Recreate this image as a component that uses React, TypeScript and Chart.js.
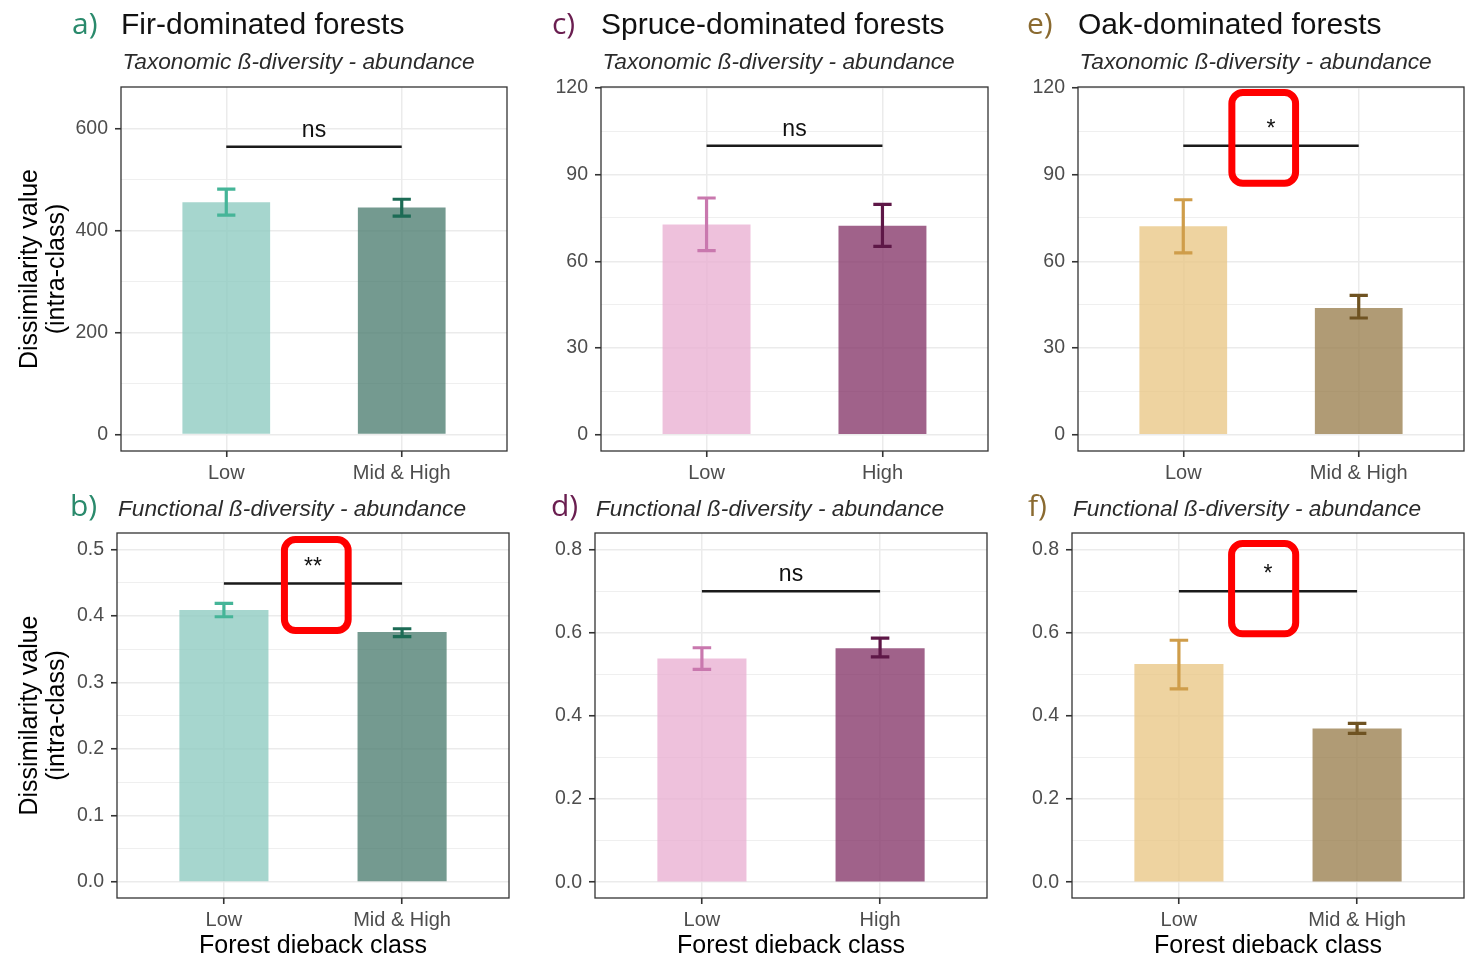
import React, { useEffect, useRef } from 'react';
import { Chart, registerables } from 'chart.js';

Chart.register(...registerables);

const SANS = '"Liberation Sans", Arial, Helvetica, sans-serif';
const LETTER = '"Open Sans", "Noto Sans", sans-serif';

// Dieback classes per forest type
const firClasses = ['Low', 'Mid & High'];
const spruceClasses = ['Low', 'High'];
const oakClasses = ['Low', 'Mid & High'];

// a) Fir – taxonomic β-diversity (abundance): mean and error-bar limits
const firTaxMean = [455, 445];
const firTaxLower = [430, 428];
const firTaxUpper = [481, 461];

// b) Fir – functional β-diversity (abundance)
const firFunMean = [0.409, 0.376];
const firFunLower = [0.399, 0.369];
const firFunUpper = [0.419, 0.381];

// c) Spruce – taxonomic
const spruceTaxMean = [72.7, 72.3];
const spruceTaxLower = [63.7, 65.2];
const spruceTaxUpper = [81.9, 79.7];

// d) Spruce – functional
const spruceFunMean = [0.538, 0.563];
const spruceFunLower = [0.512, 0.542];
const spruceFunUpper = [0.564, 0.587];

// e) Oak – taxonomic
const oakTaxMean = [72.1, 43.9];
const oakTaxLower = [62.9, 40.4];
const oakTaxUpper = [81.3, 48.2];

// f) Oak – functional
const oakFunMean = [0.525, 0.37];
const oakFunLower = [0.465, 0.358];
const oakFunUpper = [0.582, 0.382];

// Significance brackets (a..f): height and label
const bracketY = [564, 0.449, 100, 0.7, 100, 0.7];
const bracketLabel = ['ns', '**', 'ns', 'ns', '*', '*'];

// Axis ticks
const firTaxMajor = [0, 200, 400, 600];
const firTaxMinor = [100, 300, 500];
const taxMajor = [0, 30, 60, 90, 120];
const taxMinor = [15, 45, 75, 105];
const firFunMajor = [0, 0.1, 0.2, 0.3, 0.4, 0.5];
const firFunMinor = [0.05, 0.15, 0.25, 0.35, 0.45];
const funMajor = [0, 0.2, 0.4, 0.6, 0.8];
const funMinor = [0.1, 0.3, 0.5, 0.7];

const TAX_SUB = 'Taxonomic ß-diversity - abundance';
const FUN_SUB = 'Functional ß-diversity - abundance';
const Y_TITLE = ['Dissimilarity value', '(intra-class)'];
const X_TITLE = 'Forest dieback class';

type Box = { left: number; top: number; width: number; height: number };
type Panel = {
  letter: string;
  letterColor: string;
  letterDx: number;
  title?: string;
  subtitle: string;
  categories: string[];
  mean: number[];
  lower: number[];
  upper: number[];
  fills: string[];
  errColors: string[];
  bracket: number;
  sig: string;
  yRange: [number, number];
  major: number[];
  minor: number[];
  decimals: number;
  yTitle?: string[];
  xTitle?: string;
  highlight?: { x: [number, number]; y: [number, number] };
  box: Box;
  area: [number, number, number, number];
  yAxisW: number;
};

const FIR_FILL = ['rgba(144,204,194,0.8)', 'rgba(81,129,116,0.8)'];
const FIR_ERR = ['#45b598', '#1c6b55'];
const SPRUCE_FILL = ['rgba(234,178,211,0.8)', 'rgba(136,59,109,0.8)'];
const SPRUCE_ERR = ['#c978ae', '#5e1747'];
const OAK_FILL = ['rgba(234,200,136,0.8)', 'rgba(156,130,83,0.8)'];
const OAK_ERR = ['#cf9d4a', '#6f5322'];

const panels: Panel[] = [
  {
    letter: 'a)', letterColor: '#2a8a6c', letterDx: 49, title: 'Fir-dominated forests', subtitle: TAX_SUB,
    categories: firClasses, mean: firTaxMean, lower: firTaxLower, upper: firTaxUpper,
    fills: FIR_FILL, errColors: FIR_ERR, bracket: bracketY[0], sig: bracketLabel[0],
    yRange: [-32.5, 681], major: firTaxMajor, minor: firTaxMinor, decimals: 0, yTitle: Y_TITLE,
    box: { left: 0, top: 0, width: 515, height: 486 }, area: [121, 87, 507, 451], yAxisW: 121,
  },
  {
    letter: 'b)', letterColor: '#2a8a6c', letterDx: 47, subtitle: FUN_SUB,
    categories: firClasses, mean: firFunMean, lower: firFunLower, upper: firFunUpper,
    fills: FIR_FILL, errColors: FIR_ERR, bracket: bracketY[1], sig: bracketLabel[1],
    yRange: [-0.024, 0.525], major: firFunMajor, minor: firFunMinor, decimals: 1, yTitle: Y_TITLE, xTitle: X_TITLE,
    highlight: { x: [1.32, 1.717], y: [0.373, 0.5205] },
    box: { left: 0, top: 480, width: 515, height: 478 }, area: [117, 533, 509, 898], yAxisW: 117,
  },
  {
    letter: 'c)', letterColor: '#6a1e50', letterDx: 49, title: 'Spruce-dominated forests', subtitle: TAX_SUB,
    categories: spruceClasses, mean: spruceTaxMean, lower: spruceTaxLower, upper: spruceTaxUpper,
    fills: SPRUCE_FILL, errColors: SPRUCE_ERR, bracket: bracketY[2], sig: bracketLabel[2],
    yRange: [-5.6, 120.3], major: taxMajor, minor: taxMinor, decimals: 0,
    box: { left: 520, top: 0, width: 480, height: 486 }, area: [601, 87, 988, 451], yAxisW: 60,
  },
  {
    letter: 'd)', letterColor: '#6a1e50', letterDx: 44, subtitle: FUN_SUB,
    categories: spruceClasses, mean: spruceFunMean, lower: spruceFunLower, upper: spruceFunUpper,
    fills: SPRUCE_FILL, errColors: SPRUCE_ERR, bracket: bracketY[3], sig: bracketLabel[3],
    yRange: [-0.038, 0.84], major: funMajor, minor: funMinor, decimals: 1, xTitle: X_TITLE,
    box: { left: 520, top: 480, width: 480, height: 478 }, area: [595, 533, 987, 898], yAxisW: 60,
  },
  {
    letter: 'e)', letterColor: '#8a6a30', letterDx: 51, title: 'Oak-dominated forests', subtitle: TAX_SUB,
    categories: oakClasses, mean: oakTaxMean, lower: oakTaxLower, upper: oakTaxUpper,
    fills: OAK_FILL, errColors: OAK_ERR, bracket: bracketY[4], sig: bracketLabel[4],
    yRange: [-5.6, 120.3], major: taxMajor, minor: taxMinor, decimals: 0,
    highlight: { x: [1.257, 1.66], y: [85.8, 119.6] },
    box: { left: 1000, top: 0, width: 468, height: 486 }, area: [1078, 87, 1464, 451], yAxisW: 60,
  },
  {
    letter: 'f)', letterColor: '#8a6a30', letterDx: 44, subtitle: FUN_SUB,
    categories: oakClasses, mean: oakFunMean, lower: oakFunLower, upper: oakFunUpper,
    fills: OAK_FILL, errColors: OAK_ERR, bracket: bracketY[5], sig: bracketLabel[5],
    yRange: [-0.038, 0.84], major: funMajor, minor: funMinor, decimals: 1, xTitle: X_TITLE,
    highlight: { x: [1.276, 1.675], y: [0.589, 0.823] },
    box: { left: 1000, top: 480, width: 468, height: 478 }, area: [1072, 533, 1464, 898], yAxisW: 60,
  },
];

const CAP_HALF = 0.052; // error-bar cap half width, in category units

function makeDecor(p: Panel) {
  return {
    id: 'panelDecor',
    afterDatasetsDraw(chart: any) {
      const { ctx, chartArea: a } = chart;
      const xs = chart.scales.x;
      const ys = chart.scales.y;
      ctx.save();

      // error bars
      p.mean.forEach((_, i) => {
        const cx = xs.getPixelForValue(i + 1);
        const half = xs.getPixelForValue(1 + CAP_HALF) - xs.getPixelForValue(1);
        const yLo = ys.getPixelForValue(p.lower[i]);
        const yHi = ys.getPixelForValue(p.upper[i]);
        ctx.strokeStyle = p.errColors[i];
        ctx.lineWidth = 3.2;
        ctx.lineCap = 'butt';
        ctx.beginPath();
        ctx.moveTo(cx, yLo);
        ctx.lineTo(cx, yHi);
        ctx.moveTo(cx - half, yLo);
        ctx.lineTo(cx + half, yLo);
        ctx.moveTo(cx - half, yHi);
        ctx.lineTo(cx + half, yHi);
        ctx.stroke();
      });

      // significance bracket
      const by = ys.getPixelForValue(p.bracket);
      const bx0 = xs.getPixelForValue(1);
      const bx1 = xs.getPixelForValue(p.categories.length);
      ctx.strokeStyle = '#1a1a1a';
      ctx.lineWidth = 2.4;
      ctx.beginPath();
      ctx.moveTo(bx0, by);
      ctx.lineTo(bx1, by);
      ctx.stroke();
      ctx.fillStyle = '#111';
      ctx.font = `23px ${SANS}`;
      ctx.textAlign = 'center';
      ctx.textBaseline = 'alphabetic';
      ctx.fillText(p.sig, (bx0 + bx1) / 2, by - 10);

      // panel border
      ctx.strokeStyle = '#333333';
      ctx.lineWidth = 1.3;
      ctx.strokeRect(a.left, a.top, a.right - a.left, a.bottom - a.top);

      // highlight box
      if (p.highlight) {
        const lw = 7;
        const h = p.highlight;
        const x0 = xs.getPixelForValue(h.x[0]) + lw / 2;
        const x1 = xs.getPixelForValue(h.x[1]) - lw / 2;
        const y0 = ys.getPixelForValue(h.y[1]) + lw / 2;
        const y1 = ys.getPixelForValue(h.y[0]) - lw / 2;
        ctx.strokeStyle = '#ff0000';
        ctx.lineWidth = lw;
        ctx.beginPath();
        ctx.roundRect(x0, y0, x1 - x0, y1 - y0, 11);
        ctx.stroke();
      }
      ctx.restore();
    },
    afterDraw(chart: any) {
      const { ctx, chartArea: a } = chart;
      ctx.save();
      ctx.textAlign = 'left';
      ctx.textBaseline = 'alphabetic';
      if (p.title) {
        const base = a.top - 53.5;
        ctx.font = `30px ${LETTER}`;
        ctx.fillStyle = p.letterColor;
        ctx.fillText(p.letter, a.left - p.letterDx, base);
        ctx.font = `30px ${SANS}`;
        ctx.fillStyle = '#111';
        ctx.fillText(p.title, a.left, base);
        ctx.font = `italic 22.7px ${SANS}`;
        ctx.fillStyle = '#2b2b2b';
        ctx.fillText(p.subtitle, a.left + 1.5, a.top - 18.5);
      } else {
        const base = a.top - 17;
        ctx.font = `30px ${LETTER}`;
        ctx.fillStyle = p.letterColor;
        ctx.fillText(p.letter, a.left - p.letterDx, base);
        ctx.font = `italic 22.7px ${SANS}`;
        ctx.fillStyle = '#2b2b2b';
        ctx.fillText(p.subtitle, a.left + 1, base);
      }
      ctx.restore();
    },
  };
}

function isIn(list: number[], v: number) {
  return list.some((m) => Math.abs(m - v) < 1e-9);
}

function PanelChart({ p }: { p: Panel }) {
  const ref = useRef<HTMLCanvasElement>(null);

  useEffect(() => {
    const canvas = ref.current;
    if (!canvas) return;
    const [L, T, R, B] = p.area;
    const padLeft = L - p.box.left - p.yAxisW;
    const padTop = T - p.box.top;
    const padRight = p.box.left + p.box.width - R;
    const xAxisH = p.box.top + p.box.height - B;
    const allTicks = [...p.major, ...p.minor].sort((m, n) => m - n);

    const chart = new Chart(canvas, {
      type: 'bar',
      data: {
        datasets: [
          {
            data: p.mean.map((v, i) => ({ x: i + 1, y: v })),
            backgroundColor: p.fills,
            borderWidth: 0,
            barPercentage: 0.5,
            categoryPercentage: 1,
          },
        ],
      },
      options: {
        animation: false,
        responsive: false,
        maintainAspectRatio: false,
        events: [],
        layout: { padding: { left: padLeft, top: padTop, right: padRight, bottom: 0 } },
        plugins: { legend: { display: false }, tooltip: { enabled: false }, title: { display: false } },
        scales: {
          x: {
            type: 'linear',
            min: 0.4,
            max: 2.6,
            offset: false,
            bounds: 'data',
            afterBuildTicks: (s: any) => {
              s.ticks = p.categories.map((_, i) => ({ value: i + 1 }));
            },
            afterFit: (s: any) => {
              s.height = xAxisH;
            },
            ticks: {
              autoSkip: false,
              maxRotation: 0,
              minRotation: 0,
              padding: 4,
              color: '#4d4d4d',
              font: { family: SANS, size: 20 },
              callback: (v: any) => p.categories[Math.round(Number(v)) - 1] ?? '',
            },
            grid: {
              offset: false,
              color: '#ebebeb',
              lineWidth: 1.5,
              drawTicks: true,
              tickLength: 6,
              tickColor: '#333333',
              tickWidth: 1.6,
            },
            border: { display: false },
            title: p.xTitle
              ? {
                  display: true,
                  text: p.xTitle,
                  color: '#000',
                  font: { family: SANS, size: 25, lineHeight: 0.95 },
                  padding: { top: 0, bottom: 0 },
                }
              : { display: false },
          },
          y: {
            type: 'linear',
            min: p.yRange[0],
            max: p.yRange[1],
            bounds: 'data',
            afterBuildTicks: (s: any) => {
              s.ticks = allTicks.map((v) => ({ value: v }));
            },
            afterFit: (s: any) => {
              s.width = p.yAxisW;
            },
            ticks: {
              autoSkip: false,
              padding: 7,
              color: '#4d4d4d',
              font: { family: SANS, size: 19.5 },
              callback: (v: any) => (isIn(p.major, Number(v)) ? Number(v).toFixed(p.decimals) : ''),
            },
            grid: {
              color: '#ebebeb',
              lineWidth: (c: any) => (isIn(p.major, c.tick?.value) ? 1.5 : 0.8),
              drawTicks: true,
              tickLength: 6,
              tickColor: (c: any) => (isIn(p.major, c.tick?.value) ? '#333333' : 'rgba(0,0,0,0)'),
              tickWidth: 1.6,
            },
            border: { display: false },
            title: p.yTitle
              ? {
                  display: true,
                  text: p.yTitle,
                  color: '#000',
                  font: { family: SANS, size: 25, lineHeight: 1.08 },
                  padding: { top: 16.5, bottom: 0 },
                }
              : { display: false },
          },
        },
      } as any,
      plugins: [makeDecor(p)],
    } as any);

    return () => chart.destroy();
  }, [p]);

  return (
    <canvas
      ref={ref}
      width={p.box.width}
      height={p.box.height}
      style={{
        position: 'absolute',
        left: p.box.left,
        top: p.box.top,
        width: p.box.width,
        height: p.box.height,
      }}
    />
  );
}

export default function App() {
  return (
    <div
      style={{
        position: 'absolute',
        left: 0,
        top: 0,
        width: 1468,
        height: 958,
        background: '#ffffff',
        overflow: 'hidden',
      }}
    >
      {panels.map((p) => (
        <PanelChart key={p.letter} p={p} />
      ))}
    </div>
  );
}
